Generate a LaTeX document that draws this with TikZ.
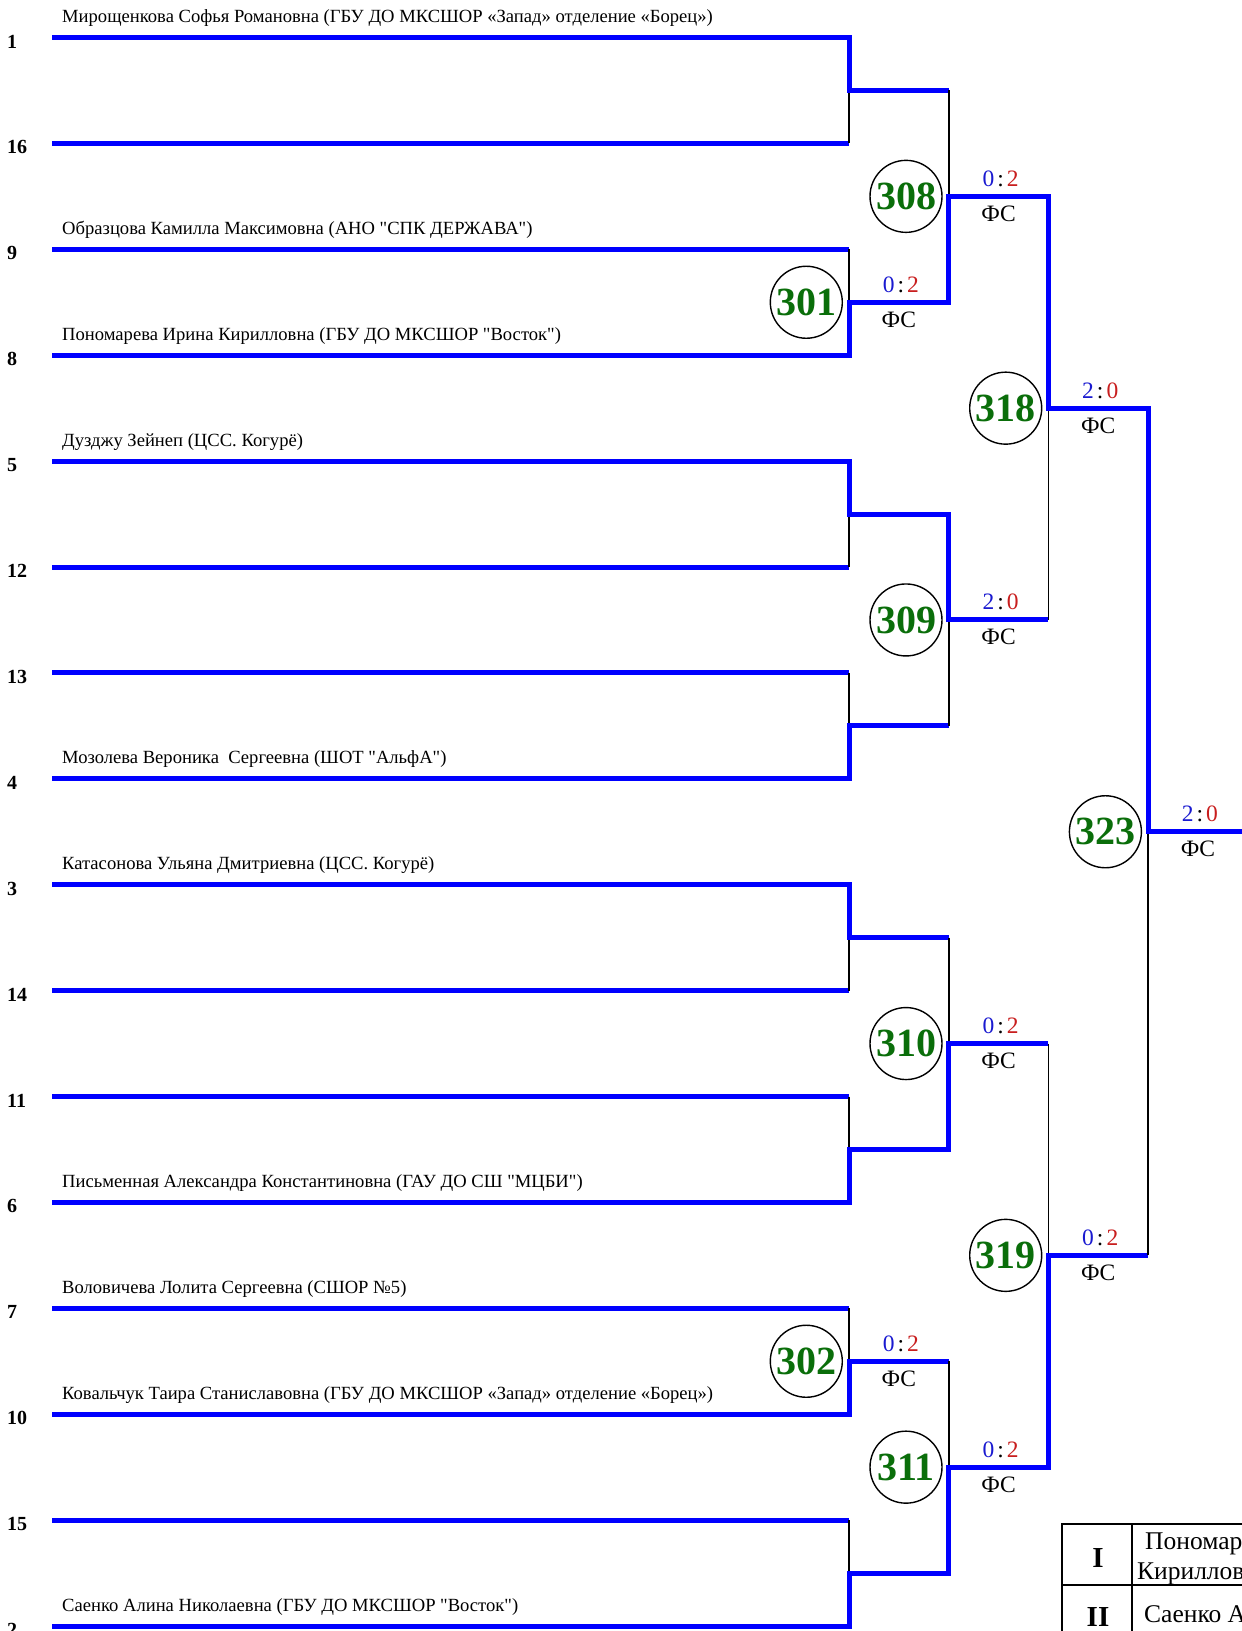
\documentclass[tikz,border=0pt]{standalone}
\usepackage{fontspec}
\setmainfont{Liberation Serif}
\newfontfamily\pnfont{Liberation Serif}
\usetikzlibrary{positioning}
\definecolor{cline}{HTML}{0000FF}
\definecolor{cscoreA}{HTML}{1A1AD0}
\definecolor{cscoreB}{HTML}{C81E1E}
\definecolor{cmatch}{HTML}{0A6E0A}
\tikzset{
  win/.style={draw=cline, line width=5pt},
  lose/.style={draw=black, line width=1.8pt},
  seedno/.style={font=\fontsize{20}{22}\selectfont\bfseries, anchor=west, inner sep=0pt},
  pname/.style={font=\pnfont\fontsize{18.6}{20}\selectfont, anchor=base west, inner sep=0pt},
  mcircle/.style={draw, circle, line width=1.4pt, minimum size=72pt, inner sep=0pt,
                  text=cmatch, font=\fontsize{40}{42}\selectfont\bfseries},
  score/.style={font=\fontsize{23.5}{25}\selectfont, anchor=base, inner sep=0pt},
  ptab/.style={draw=black, line width=2pt},
  pcell/.style={font=\fontsize{25.5}{27}\selectfont, anchor=base west, inner sep=0pt},
}

\begin{document}
\begin{tikzpicture}[x=1pt, y=-1pt]
  \useasboundingbox (0,0) rectangle (1242,1631);
  \clip (0,0) rectangle (1242,1631);
  % bracket points: e<level>-<k> = end of a line, j<level>-<k> = where it starts
  \foreach \L/\n in {0/15,1/7,2/3,3/1,4/0} {
    \foreach \k in {0,...,\n} {
      \coordinate (e\L-\k) at ({849+99.7*\L}, {37.5+105.9*(2^\L*\k+(2^\L-1)/2)});
      \coordinate (j\L-\k) at ({849+99.7*(\L-1)}, {37.5+105.9*(2^\L*\k+(2^\L-1)/2)});
    }
  }
  % seed lines
  \foreach \s [count=\i from 0] in {1,16,9,8,5,12,13,4,3,14,11,6,7,10,15,2} {
    \coordinate (a\i) at (52, {37.5+105.9*\i});
    \node[seedno] (n\s) at (7, {41.5+105.9*\i}) {\s};
    \draw[win] (a\i) -- (e0-\i);
  }
  \node[pname] (p1) at (62, 22.5) {Мирощенкова Софья Романовна (ГБУ ДО МКСШОР «Запад» отделение «Борец»)};
  \node[pname] (p9) at (62, 234.3) {Образцова Камилла Максимовна (АНО "СПК ДЕРЖАВА")};
  \node[pname] (p8) at (62, 340.2) {Пономарева Ирина Кирилловна (ГБУ ДО МКСШОР "Восток")};
  \node[pname] (p5) at (62, 446.1) {Дузджу Зейнеп (ЦСС. Когурё)};
  \node[pname] (p4) at (62, 763.8) {Мозолева Вероника\ \ Сергеевна (ШОТ "АльфА")};
  \node[pname] (p3) at (62, 869.7) {Катасонова Ульяна Дмитриевна (ЦСС. Когурё)};
  \node[pname] (p6) at (62, 1187.4) {Письменная Александра Константиновна (ГАУ ДО СШ "МЦБИ")};
  \node[pname] (p7) at (62, 1293.3) {Воловичева Лолита Сергеевна (СШОР №5)};
  \node[pname] (p10) at (62, 1399.2) {Ковальчук Таира Станиславовна (ГБУ ДО МКСШОР «Запад» отделение «Борец»)};
  \node[pname] (p2) at (62, 1611.0) {Саенко Алина Николаевна (ГБУ ДО МКСШОР "Восток")};
  % byes
  \foreach \k/\w/\o in {0/0/1, 2/4/5, 3/7/6, 4/8/9, 5/11/10, 7/15/14} {
    \draw[lose] (e0-\o) -- (j1-\k);
    \draw[win] ([xshift=-8pt]e0-\w) -- (e0-\w) -- (j1-\k) -- (e1-\k);
  }
  % fights
  \foreach \L/\k/\w/\o/\m/\sa/\sb in {1/1/3/2/301/0/2, 1/6/13/12/302/0/2,
      2/0/1/0/308/0/2, 2/1/2/3/309/2/0, 2/2/5/4/310/0/2, 2/3/7/6/311/0/2,
      3/0/0/1/318/2/0, 3/1/3/2/319/0/2, 4/0/0/1/323/2/0} {
    \pgfmathtruncatemacro\P{\L-1}
    \draw[lose] (e\P-\o) -- (j\L-\k);
    \draw[win] ([xshift=-8pt]e\P-\w) -- (e\P-\w) -- (j\L-\k) -- (e\L-\k)
      node[score, midway, xshift=2pt, yshift=10pt] (sc\m)
        {\textcolor{cscoreA}{\sa}\kern3pt:\kern3pt\textcolor{cscoreB}{\sb}}
      node[score, midway, yshift=-25pt] (fs\m) {ФС};
    \node[mcircle, left=6pt of j\L-\k] (m\m) {\m};
  }
  % places
  \draw[ptab] (1062,1660) -- (1062,1524) -- (1260,1524);
  \draw[ptab] (1132,1524) -- (1132,1660);
  \draw[ptab] (1062,1585) -- (1260,1585);
  \node[font=\fontsize{29}{31}\selectfont\bfseries] (pl1) at (1098,1558) {I};
  \node[font=\fontsize{29}{31}\selectfont\bfseries] (pl2) at (1098,1617) {II};
  \node[pcell] (w1a) at (1145,1549) {Пономарева Ирина};
  \node[pcell] (w1b) at (1137,1579) {Кирилловна};
  \node[pcell] (w2a) at (1144,1622) {Саенко Алина};
\end{tikzpicture}
\end{document}
